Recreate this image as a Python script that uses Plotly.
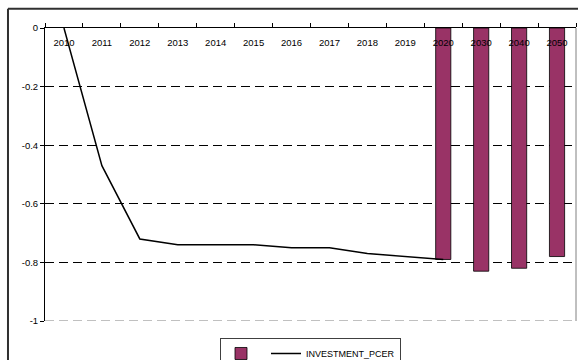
import plotly.graph_objects as go

# Categories on the x axis: annual steps to 2020, then decades
categories = ["2010", "2011", "2012", "2013", "2014", "2015", "2016",
              "2017", "2018", "2019", "2020", "2030", "2040", "2050"]

# Annual path (line)
line_years = ["2010", "2011", "2012", "2013", "2014", "2015", "2016",
              "2017", "2018", "2019", "2020"]
line_values = [0.0, -0.47, -0.72, -0.74, -0.74, -0.74, -0.75,
               -0.75, -0.77, -0.78, -0.79]

# Long-run points (bars)
bar_years = ["2020", "2030", "2040", "2050"]
bar_values = [-0.79, -0.83, -0.82, -0.78]

y_ticks = [0, -0.2, -0.4, -0.6, -0.8, -1]
y_tick_text = ["0", "-0.2", "-0.4", "-0.6", "-0.8", "-1"]

FONT = "Liberation Sans, Arial, sans-serif"

fig = go.Figure()
fig.add_trace(go.Bar(
    x=bar_years, y=bar_values, name="",
    marker=dict(color="#993366", line=dict(color="#000000", width=0.8)),
    width=0.4, showlegend=True,
))
fig.add_trace(go.Scatter(
    x=line_years, y=line_values, name="INVESTMENT_PCER",
    mode="lines", line=dict(color="#000000", width=1.5),
))

fig.update_layout(
    width=578, height=360,
    margin=dict(l=45, r=2, t=28, b=39, autoexpand=False),
    paper_bgcolor="white", plot_bgcolor="white",
    font=dict(family=FONT, size=9, color="#000000"),
    legend=dict(
        orientation="h", x=0.5, xanchor="center", y=-0.058, yanchor="top",
        bordercolor="#404040", borderwidth=1, bgcolor="white",
        font=dict(family=FONT, size=9, color="#000000"), itemwidth=30,
        tracegroupgap=0,
    ),
    xaxis=dict(
        type="category", categoryorder="array", categoryarray=categories,
        range=[-0.5, 13.5],
        side="top", ticklabelposition="inside", ticklabeloverflow="allow",
        ticklabelstandoff=10,
        tickson="boundaries",
        ticks="outside", ticklen=4, tickcolor="#000000",
        showline=True, linecolor="#000000", linewidth=1,
        showgrid=False, tickfont=dict(family=FONT, size=9.5, color="#000000"),
        layer="above traces",
    ),
    yaxis=dict(
        range=[-1, 0], tickvals=y_ticks, ticktext=y_tick_text,
        ticks="outside", ticklen=4, tickcolor="#000000",
        ticklabeloverflow="allow",
        showline=True, linecolor="#000000", linewidth=1,
        showgrid=False, zeroline=False,
        tickfont=dict(family=FONT, size=9.5, color="#000000"),
        minor=dict(tickvals=[-0.2, -0.4, -0.6, -0.8], showgrid=True,
                   gridcolor="#000000", griddash="9px,5px", gridwidth=1,
                   ticks=""),
    ),
    shapes=[
        # plot area bottom and right edges
        dict(type="line", xref="paper", yref="y", x0=0, x1=1, y0=-1, y1=-1,
             line=dict(color="#808080", width=1, dash="9px,5px")),
        dict(type="line", xref="paper", yref="paper", x0=1, x1=1, y0=0, y1=1,
             line=dict(color="#808080", width=1)),
        # chart frame: top and left edges
        dict(type="line", xref="paper", yref="paper",
             x0=-0.0697, x1=1.1, y0=1.066, y1=1.066,
             line=dict(color="#303030", width=2), layer="above"),
        dict(type="line", xref="paper", yref="paper",
             x0=-0.0697, x1=-0.0697, y0=-0.3, y1=1.066,
             line=dict(color="#303030", width=2), layer="above"),
    ],
)

fig.write_html("out.html")
